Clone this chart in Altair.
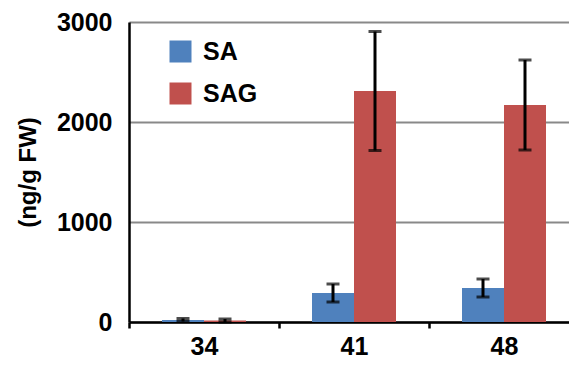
import altair as alt
import pandas as pd

days = ["34", "41", "48"]
series = ["SA", "SAG"]
colors = ["#4F81BD", "#C0504D"]
sa_mean = [20, 290, 340]
sa_err = [15, 90, 90]
sag_mean = [15, 2310, 2170]
sag_err = [15, 595, 450]
y_ticks = [0, 1000, 2000, 3000]

rows = []
for i, d in enumerate(days):
    rows.append({"day": d, "series": "SA", "mean": sa_mean[i], "err": sa_err[i]})
    rows.append({"day": d, "series": "SAG", "mean": sag_mean[i], "err": sag_err[i]})
df = pd.DataFrame(rows)

FONT = "Liberation Sans"

x = alt.X(
    "day:N", sort=days, title=None,
    scale=alt.Scale(range=[0, 450], paddingInner=0.44, paddingOuter=0.22),
    axis=alt.Axis(labelAngle=0, labelFontSize=25, labelFontWeight="bold", labelColor="black",
                  labelFont=FONT, labelPadding=6, domainColor="black", domainWidth=2.5,
                  ticks=True, tickColor="black", tickWidth=2.5, tickSize=6, tickOpacity=1,
                  tickOffset=-75, labelOffset=75, grid=False),
)
xo = alt.XOffset("series:N", sort=series, scale=alt.Scale(paddingInner=0, paddingOuter=0))
yscale = alt.Scale(domain=[0, 3000], nice=False)

bars = alt.Chart(df).mark_bar().encode(
    x=x, xOffset=xo,
    y=alt.Y("mean:Q", scale=yscale, title="(ng/g FW)",
            axis=alt.Axis(values=y_ticks, format="d", ticks=False, labelFontSize=25,
                          labelFontWeight="bold", labelColor="black", labelFont=FONT,
                          labelPadding=17, domainColor="black", domainWidth=2.5,
                          gridColor="#898989", gridWidth=2,
                          titleFontSize=24, titleFont=FONT, titleFontWeight="bold",
                          titleColor="black", titlePadding=16)),
    color=alt.Color("series:N", sort=series, scale=alt.Scale(domain=series, range=colors),
                    legend=alt.Legend(title=None, orient="none", legendX=39, legendY=17,
                                      symbolType="square", symbolSize=484, symbolStrokeWidth=0,
                                      symbolOpacity=1, labelFontSize=25, labelFontWeight="bold",
                                      labelFont=FONT, labelColor="black", labelOffset=10,
                                      rowPadding=16)),
)

base = alt.Chart(df).transform_calculate(lo="datum.mean - datum.err", hi="datum.mean + datum.err")

rules = base.mark_rule(color="black", strokeWidth=3).encode(
    x=x, xOffset=xo, y=alt.Y("lo:Q", scale=yscale), y2="hi:Q")
cap_lo = base.mark_tick(color="black", thickness=3, size=13, orient="horizontal").encode(
    x=x, xOffset=xo, y=alt.Y("lo:Q", scale=yscale))
cap_hi = base.mark_tick(color="black", thickness=3, size=13, orient="horizontal").encode(
    x=x, xOffset=xo, y=alt.Y("hi:Q", scale=yscale))

chart = alt.layer(bars, rules, cap_lo, cap_hi).properties(
    width=440, height=300,
    autosize=alt.AutoSizeParams(type="none"),
    padding={"left": 121, "top": 14, "right": 0, "bottom": 40},
).configure_view(strokeWidth=0)

chart.save("out.html", embed_options={"renderer": "svg", "actions": False})
